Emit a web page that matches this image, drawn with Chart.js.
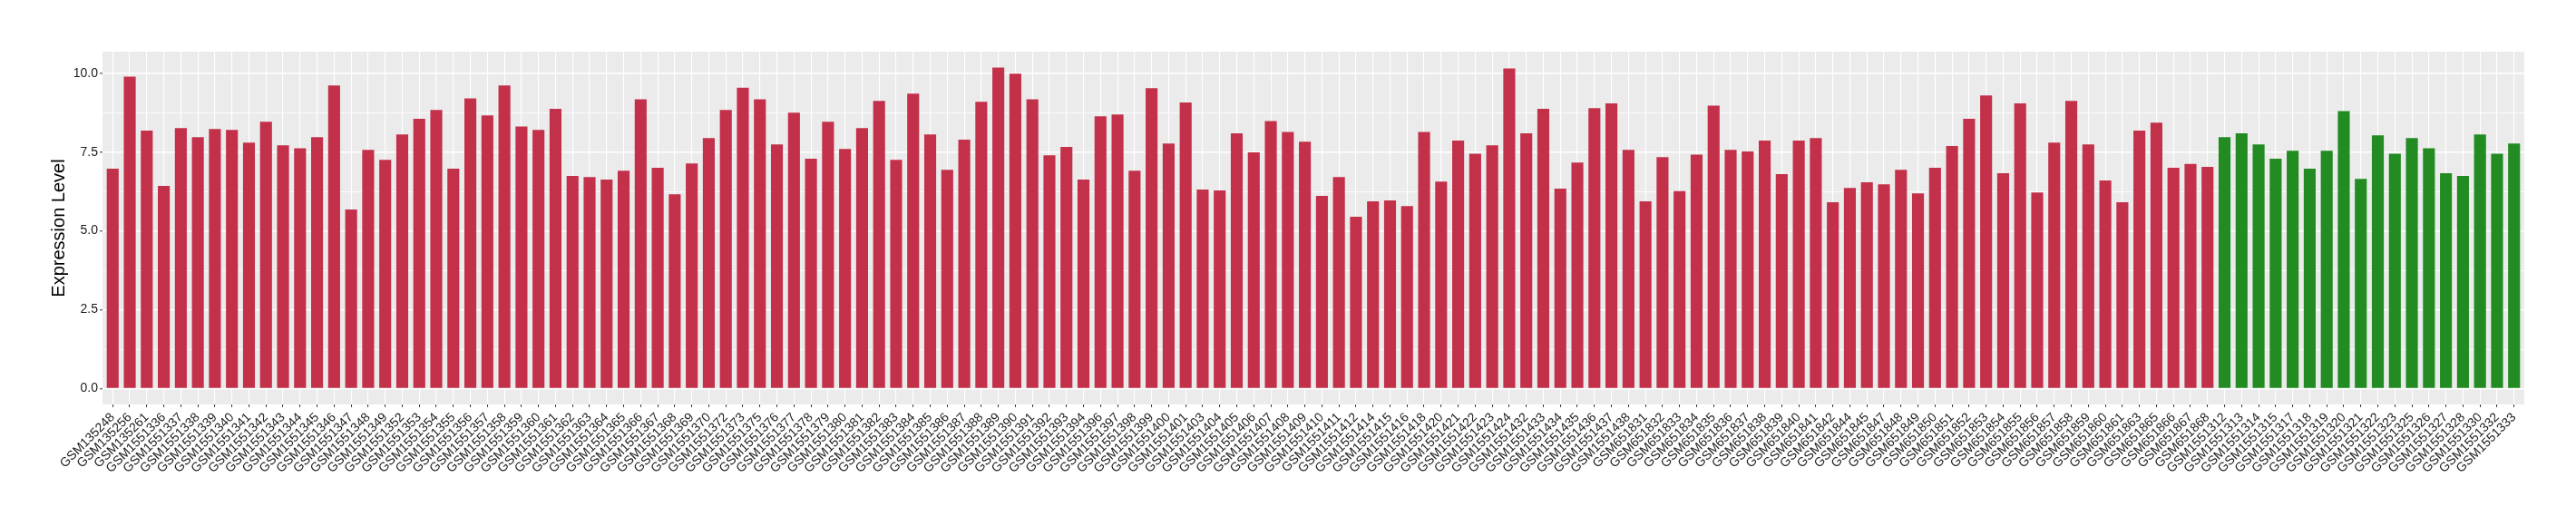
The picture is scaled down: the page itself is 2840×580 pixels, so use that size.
<!DOCTYPE html>
<html>
<head>
<meta charset="utf-8">
<script src="https://cdn.jsdelivr.net/npm/chart.js@4.4.1/dist/chart.umd.min.js"></script>
<style>
  html, body { margin: 0; padding: 0; background: #ffffff; }
  #wrap { width: 2840px; height: 580px; }
</style>
</head>
<body>
<div id="wrap"><canvas id="barchart" width="2840" height="580"></canvas></div>
<script>
// red group (first 124 samples)
var redSamples = [
    'GSM135248', 'GSM135256', 'GSM135261',
    'GSM1551336', 'GSM1551337', 'GSM1551338', 'GSM1551339', 'GSM1551340', 'GSM1551341', 'GSM1551342',
    'GSM1551343', 'GSM1551344', 'GSM1551345', 'GSM1551346', 'GSM1551347', 'GSM1551348', 'GSM1551349',
    'GSM1551352', 'GSM1551353', 'GSM1551354', 'GSM1551355', 'GSM1551356', 'GSM1551357', 'GSM1551358',
    'GSM1551359', 'GSM1551360', 'GSM1551361', 'GSM1551362', 'GSM1551363', 'GSM1551364', 'GSM1551365',
    'GSM1551366', 'GSM1551367', 'GSM1551368', 'GSM1551369', 'GSM1551370',
    'GSM1551372', 'GSM1551373', 'GSM1551375', 'GSM1551376', 'GSM1551377', 'GSM1551378', 'GSM1551379',
    'GSM1551380', 'GSM1551381', 'GSM1551382', 'GSM1551383', 'GSM1551384', 'GSM1551385', 'GSM1551386',
    'GSM1551387', 'GSM1551388', 'GSM1551389', 'GSM1551390', 'GSM1551391', 'GSM1551392', 'GSM1551393',
    'GSM1551394',
    'GSM1551396', 'GSM1551397', 'GSM1551398', 'GSM1551399', 'GSM1551400', 'GSM1551401',
    'GSM1551403', 'GSM1551404', 'GSM1551405', 'GSM1551406', 'GSM1551407', 'GSM1551408', 'GSM1551409',
    'GSM1551410', 'GSM1551411', 'GSM1551412',
    'GSM1551414', 'GSM1551415', 'GSM1551416', 'GSM1551418',
    'GSM1551420', 'GSM1551421', 'GSM1551422', 'GSM1551423', 'GSM1551424',
    'GSM1551432', 'GSM1551433', 'GSM1551434', 'GSM1551435', 'GSM1551436', 'GSM1551437', 'GSM1551438',
    'GSM651831', 'GSM651832', 'GSM651833', 'GSM651834', 'GSM651835', 'GSM651836', 'GSM651837',
    'GSM651838', 'GSM651839', 'GSM651840', 'GSM651841', 'GSM651842', 'GSM651844', 'GSM651845',
    'GSM651847', 'GSM651848', 'GSM651849', 'GSM651850', 'GSM651851', 'GSM651852', 'GSM651853',
    'GSM651854', 'GSM651855', 'GSM651856', 'GSM651857', 'GSM651858', 'GSM651859', 'GSM651860',
    'GSM651861', 'GSM651863', 'GSM651865', 'GSM651866', 'GSM651867', 'GSM651868'
];
var redValues = [
    6.97, 9.89, 8.18,
    6.43, 8.26, 7.97, 8.23, 8.20, 7.80, 8.46, 7.71, 7.62, 7.97, 9.61, 5.68, 7.57, 7.25,
    8.06, 8.55, 8.83, 6.97, 9.20, 8.66, 9.61, 8.31, 8.20, 8.87, 6.74, 6.71, 6.63, 6.91,
    9.17, 7.00, 6.16, 7.14, 7.94,
    8.83, 9.54, 9.17, 7.74, 8.75, 7.29, 8.46, 7.60, 8.26, 9.12, 7.25, 9.35, 8.06, 6.94,
    7.89, 9.09, 10.18, 9.98, 9.17, 7.40, 7.66, 6.63,
    8.63, 8.69, 6.91, 9.52, 7.77, 9.07,
    6.31, 6.28, 8.09, 7.49, 8.48, 8.14, 7.83, 6.11, 6.71, 5.45,
    5.94, 5.97, 5.79, 8.14,
    6.56, 7.86, 7.45, 7.71, 10.15,
    8.09, 8.87, 6.34, 7.17, 8.89, 9.04, 7.57,
    5.94, 7.34, 6.26, 7.42, 8.97, 7.57, 7.52, 7.86, 6.80, 7.86, 7.94, 5.91, 6.36, 6.54,
    6.48, 6.94, 6.19, 7.00, 7.69, 8.55, 9.29, 6.83, 9.04, 6.22, 7.80, 9.12, 7.74, 6.60,
    5.91, 8.18, 8.43, 7.00, 7.12, 7.03
];

// green group (last 18 samples)
var greenSamples = [
    'GSM1551312', 'GSM1551313', 'GSM1551314', 'GSM1551315', 'GSM1551317', 'GSM1551318',
    'GSM1551319', 'GSM1551320', 'GSM1551321', 'GSM1551322', 'GSM1551323', 'GSM1551325',
    'GSM1551326', 'GSM1551327', 'GSM1551328', 'GSM1551330', 'GSM1551332', 'GSM1551333'
];
var greenValues = [
    7.97, 8.09, 7.74, 7.29, 7.54, 6.97, 7.54, 8.80, 6.65, 8.03, 7.45, 7.94,
    7.62, 6.83, 6.74, 8.06, 7.45, 7.77
];

var yTicks = [0, 2.5, 5, 7.5, 10];
var yMinorTicks = [1.25, 3.75, 6.25, 8.75];

var RED = '#C3304A';
var GREEN = '#228B22';

var samples = redSamples.concat(greenSamples);
var values = redValues.concat(greenValues);
var barColors = redSamples.map(() => RED).concat(greenSamples.map(() => GREEN));
var points = values.map((v, i) => ({ x: i, y: v }));

// grey panel behind the bars, like ggplot's theme_gray
var panelBg = {
    id: 'panelBg',
    beforeDraw: function(chart) {
        var a = chart.chartArea;
        var ctx = chart.ctx;
        ctx.save();
        ctx.fillStyle = '#EBEBEB';
        ctx.fillRect(a.left, a.top, a.right - a.left, a.bottom - a.top);
        ctx.restore();
    }
};

var isMajor = (v) => yTicks.indexOf(v) !== -1;

var chart = new Chart(document.getElementById('barchart'), {
    type: 'bar',
    data: {
        datasets: [{
            data: points,
            backgroundColor: barColors,
            borderWidth: 0,
            barPercentage: 0.7,
            categoryPercentage: 1.0
        }]
    },
    options: {
        responsive: false,
        animation: false,
        layout: {
            padding: { left: 0, top: 57, right: 57, bottom: 0 }
        },
        plugins: {
            legend: { display: false },
            tooltip: { enabled: false },
            title: { display: false }
        },
        scales: {
            x: {
                type: 'linear',
                offset: false,
                min: -0.6,
                max: samples.length - 0.4,
                afterBuildTicks: function(axis) {
                    axis.ticks = samples.map((s, i) => ({ value: i }));
                },
                afterFit: function(axis) {
                    axis.height = 134;
                },
                border: { display: false },
                grid: {
                    offset: false,
                    color: '#FFFFFF',
                    lineWidth: 1.1,
                    drawTicks: true,
                    tickLength: 3,
                    tickColor: '#333333',
                    tickWidth: 1
                },
                ticks: {
                    autoSkip: false,
                    minRotation: 45,
                    maxRotation: 45,
                    padding: 3,
                    color: '#1A1A1A',
                    font: { family: 'Liberation Sans', size: 14 },
                    callback: function(v) { return samples[v]; }
                }
            },
            y: {
                min: -0.5,
                max: 10.68,
                afterBuildTicks: function(axis) {
                    axis.ticks = yTicks.concat(yMinorTicks).sort((a, b) => a - b).map(v => ({ value: v }));
                },
                afterFit: function(axis) {
                    axis.width = 113;
                },
                border: { display: false },
                grid: {
                    color: '#FFFFFF',
                    lineWidth: (c) => isMajor(c.tick.value) ? 1.6 : 0.8,
                    tickLength: 3,
                    tickColor: (c) => isMajor(c.tick.value) ? '#333333' : 'rgba(0,0,0,0)',
                    tickWidth: 1
                },
                ticks: {
                    padding: 2,
                    color: '#1A1A1A',
                    font: { family: 'Liberation Sans', size: 14 },
                    callback: function(v) { return isMajor(v) ? v.toFixed(1) : ''; }
                },
                title: {
                    display: true,
                    text: 'Expression Level',
                    color: '#000000',
                    font: { family: 'Liberation Sans', size: 20 },
                    padding: { top: 53, bottom: 0 }
                }
            }
        }
    },
    plugins: [panelBg]
});
</script>
</body>
</html>
